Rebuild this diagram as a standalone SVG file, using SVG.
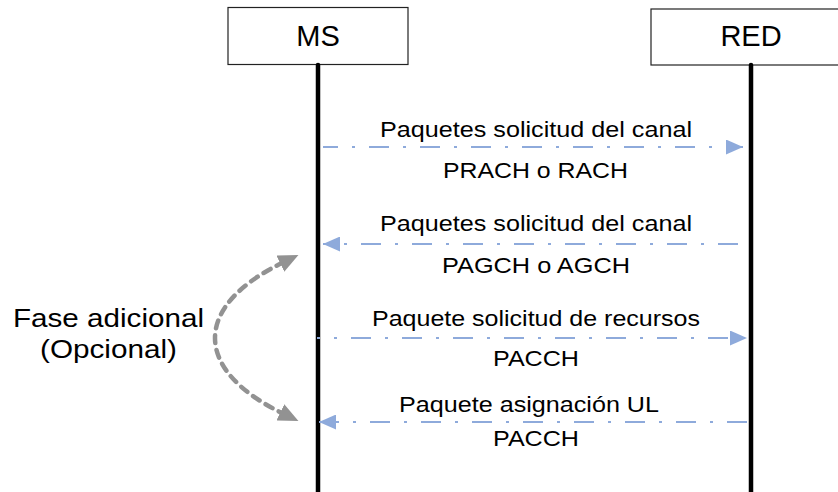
<svg xmlns="http://www.w3.org/2000/svg" width="838" height="492" viewBox="0 0 838 492">
<defs>
<style>
text{font-family:"Liberation Sans",Arial,sans-serif;fill:#000}
.lbl{font-size:22px}
.hdr{font-size:29px;text-anchor:middle}
.side{font-size:25px}
.box{fill:#fff;stroke:#222;stroke-width:1.2}
.life{stroke:#000;stroke-width:4.5;stroke-linecap:round;fill:none}
.msg{stroke:#8eaadb;stroke-width:2.2;fill:none;stroke-dasharray:20 14 3 14}
.opt{stroke:#929292;stroke-width:4.5;fill:none;stroke-dasharray:8 7;stroke-linecap:round}
</style>
<marker id="ah" viewBox="0 0 17 15" refX="17" refY="7.5" markerWidth="17" markerHeight="15" markerUnits="userSpaceOnUse" orient="auto-start-reverse">
<path d="M0,0 L17,7.5 L0,15 z" fill="#8eaadb"/>
</marker>
<marker id="gh" viewBox="0 0 20 18" refX="4" refY="9" markerWidth="20" markerHeight="18" markerUnits="userSpaceOnUse" orient="auto-start-reverse">
<path d="M0,0 L20,9 L0,18 z" fill="#929292"/>
</marker>
</defs>
<g id="MS">
<rect class="box" x="228" y="7.5" width="180" height="57"/>
<text class="hdr" x="318" y="46">MS</text>
<line class="life" x1="318" y1="65" x2="318" y2="500"/>
</g>
<g id="RED">
<rect class="box" x="651" y="9" width="200" height="56"/>
<text class="hdr" x="751" y="46">RED</text>
<line class="life" x1="751" y1="65" x2="751" y2="500"/>
</g>
<g id="connectors">
<line class="msg" x1="323" y1="147" x2="743" y2="147" stroke-dashoffset="5" marker-end="url(#ah)"/>
<line class="msg" x1="738" y1="244" x2="323" y2="244" marker-end="url(#ah)"/>
<line class="msg" x1="317" y1="338" x2="747" y2="338" stroke-dashoffset="17" marker-end="url(#ah)"/>
<line class="msg" x1="747" y1="422" x2="319" y2="422" marker-end="url(#ah)"/>
<path class="opt" d="M284,262 C192,306 192,370 284,414" marker-start="url(#gh)" marker-end="url(#gh)"/>
</g>
<g id="labels">
<text class="lbl" x="380" y="137" textLength="312" lengthAdjust="spacingAndGlyphs">Paquetes solicitud del canal</text>
<text class="lbl" x="443" y="178" textLength="185" lengthAdjust="spacingAndGlyphs">PRACH o RACH</text>
<text class="lbl" x="380" y="231" textLength="312" lengthAdjust="spacingAndGlyphs">Paquetes solicitud del canal</text>
<text class="lbl" x="442" y="273" textLength="188" lengthAdjust="spacingAndGlyphs">PAGCH o AGCH</text>
<text class="lbl" x="372" y="326" textLength="328" lengthAdjust="spacingAndGlyphs">Paquete solicitud de recursos</text>
<text class="lbl" x="493" y="366" textLength="86" lengthAdjust="spacingAndGlyphs">PACCH</text>
<text class="lbl" x="399" y="412" textLength="260" lengthAdjust="spacingAndGlyphs">Paquete asignación UL</text>
<text class="lbl" x="493" y="446" textLength="86" lengthAdjust="spacingAndGlyphs">PACCH</text>
</g>
<g id="fase">
<text class="side" x="13" y="327" textLength="191" lengthAdjust="spacingAndGlyphs">Fase adicional</text>
<text class="side" x="40" y="358" textLength="137" lengthAdjust="spacingAndGlyphs">(Opcional)</text>
</g>
</svg>
